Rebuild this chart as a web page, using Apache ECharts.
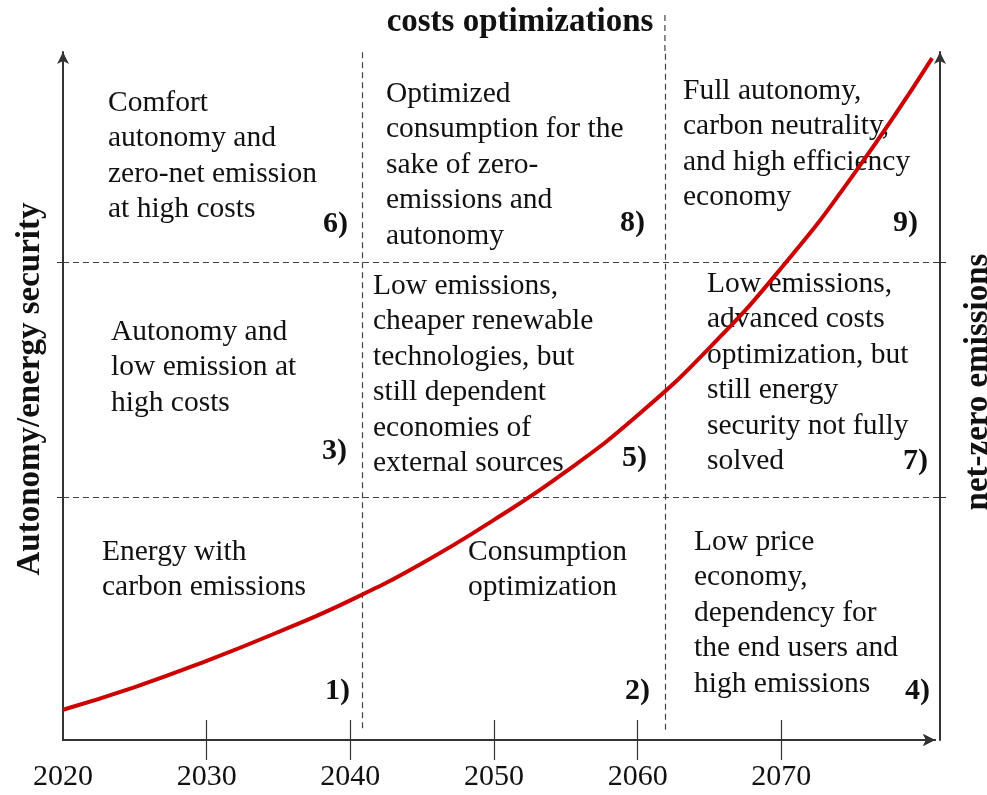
<!DOCTYPE html>
<html>
<head>
<meta charset="utf-8">
<title>costs optimizations</title>
<script src="https://cdn.jsdelivr.net/npm/echarts@6/dist/echarts.min.js"></script>
<style>
  html, body { margin: 0; padding: 0; background: #fff; }
  #chart { width: 987px; height: 795px; }
</style>
</head>
<body>
<div id="chart"></div>
<script>
// data (y is 0..100 of the vertical axis)
const years = [2020, 2025, 2030, 2035, 2040, 2045, 2050, 2055, 2060, 2065, 2070, 2075, 2080.5];
const curveValues = [4.4, 7.7, 11.5, 15.7, 20.3, 25.7, 32.0, 39.0, 47.2, 57.0, 68.6, 82.1, 99.1];
const tickYears = [2030, 2040, 2050, 2060, 2070];
const labelYears = [2020, 2030, 2040, 2050, 2060, 2070];
const dividerYears = [2040.8, 2061.9];
const dividerLevels = [35.3, 69.5];

const title = "costs optimizations";
const leftTitle = "Autonomy/energy security";
const rightTitle = "net-zero emissions";

const cellTexts = {
  q6: "Comfort\nautonomy and\nzero-net emission\nat high costs",
  q8: "Optimized\nconsumption for the\nsake of zero-\nemissions and\nautonomy",
  q9: "Full autonomy,\ncarbon neutrality,\nand high efficiency\neconomy",
  q3: "Autonomy and\nlow emission at\nhigh costs",
  q5: "Low emissions,\ncheaper renewable\ntechnologies, but\nstill dependent\neconomies of\nexternal sources",
  q7: "Low emissions,\nadvanced costs\noptimization, but\nstill energy\nsecurity not fully\nsolved",
  q1: "Energy with\ncarbon emissions",
  q2: "Consumption\noptimization",
  q4: "Low price\neconomy,\ndependency for\nthe end users and\nhigh emissions"
};
const cellNumbers = ["6)", "8)", "9)", "3)", "5)", "7)", "1)", "2)", "4)"];

const serif = "'Liberation Serif', 'DejaVu Serif', serif";
const axisColor = "#333";
const textColor = "#111";
const dashColor = "#444";
const xMin = 2020, xMax = 2080.7;

let chart = echarts.init(document.getElementById("chart"));

// text block helper
function block(text, x, y) {
  return {
    type: "text", x: x, y: y, silent: true,
    style: { text: text, fill: textColor, font: "29.5px " + serif, lineHeight: 35.5, align: "left", verticalAlign: "top" }
  };
}
function num(text, x, y) {
  return {
    type: "text", x: x, y: y, silent: true,
    style: { text: text, fill: textColor, font: "bold 30px " + serif, align: "right", verticalAlign: "middle" }
  };
}

let dividers = [];
// vertical dividers
dividers.push([{ coord: [dividerYears[0], 1.7] }, { coord: [dividerYears[0], 100] }]);
dividers.push([{ coord: [dividerYears[1], 1.5] }, { coord: [dividerYears[1], 100] }]);
// horizontal dividers
dividerLevels.forEach(function (v) {
  dividers.push([{ coord: [xMin, v] }, { coord: [xMax, v] }]);
});

let graphics = [
  { type: "text", x: 520, y: 22, silent: true,
    style: { text: title, fill: textColor, font: "bold 33px " + serif, align: "center", verticalAlign: "middle" } },
  { type: "text", x: 30, y: 389, rotation: Math.PI / 2, silent: true,
    style: { text: leftTitle, fill: textColor, font: "bold 33px " + serif, align: "center", verticalAlign: "middle" } },
  { type: "text", x: 978, y: 382, rotation: Math.PI / 2, silent: true,
    style: { text: rightTitle, fill: textColor, font: "bold 33px " + serif, align: "center", verticalAlign: "middle" } },

  block(cellTexts.q6, 108, 85),
  block(cellTexts.q8, 386, 76),
  block(cellTexts.q9, 683, 73),
  block(cellTexts.q3, 111, 314),
  block(cellTexts.q5, 373, 268),
  block(cellTexts.q7, 707, 266),
  block(cellTexts.q1, 102, 534),
  block(cellTexts.q2, 468, 534),
  block(cellTexts.q4, 694, 524),

  num(cellNumbers[0], 348, 224),
  num(cellNumbers[1], 645, 223),
  num(cellNumbers[2], 918, 223),
  num(cellNumbers[3], 347, 451),
  num(cellNumbers[4], 647, 458),
  num(cellNumbers[5], 928, 461),
  num(cellNumbers[6], 350, 691),
  num(cellNumbers[7], 650, 691),
  num(cellNumbers[8], 930, 691)
];

function yearLabel(v) { return String(v); }

chart.setOption({
  animation: false,
  grid: { left: 63, right: 52, top: 52, bottom: 55 },
  xAxis: [
    {
      type: "value", position: "bottom", min: xMin, max: xMax,
      axisLine: { show: true, symbol: ["none", "arrow"], symbolSize: [9, 12], lineStyle: { color: axisColor, width: 2 } },
      axisTick: { show: true, customValues: tickYears, length: 20, lineStyle: { color: axisColor, width: 1.2 } },
      axisLabel: { customValues: labelYears, formatter: yearLabel, margin: 22, color: textColor, fontSize: 30, fontFamily: serif },
      splitLine: { show: false }
    },
    {
      // inner half of the ticks
      type: "value", position: "bottom", min: xMin, max: xMax,
      axisLine: { show: false },
      axisTick: { show: true, inside: true, customValues: tickYears, length: 20, lineStyle: { color: axisColor, width: 1.2 } },
      axisLabel: { show: false },
      splitLine: { show: false }
    },
    {
      type: "value", position: "top", min: xMin, max: xMax,
      axisLine: { show: true, symbol: ["none", "arrow"], symbolSize: [9, 12], lineStyle: { color: axisColor, width: 2 } },
      axisTick: { show: false },
      axisLabel: { show: false },
      splitLine: { show: false }
    }
  ],
  yAxis: [
    {
      type: "value", position: "left", min: 0, max: 100,
      axisLine: { show: true, symbol: ["none", "arrow"], symbolSize: [9, 12], lineStyle: { color: axisColor, width: 2 } },
      axisTick: { show: true, customValues: dividerLevels, length: 6, lineStyle: { color: axisColor } },
      axisLabel: { show: false },
      splitLine: { show: false }
    },
    {
      type: "value", position: "left", min: 0, max: 100,
      axisLine: { show: false },
      axisTick: { show: true, inside: true, customValues: dividerLevels, length: 6, lineStyle: { color: axisColor } },
      axisLabel: { show: false },
      splitLine: { show: false }
    },
    {
      type: "value", position: "right", offset: 5, min: 0, max: 100,
      axisLine: { show: true, symbol: ["none", "arrow"], symbolSize: [9, 12], lineStyle: { color: axisColor, width: 2 } },
      axisTick: { show: true, customValues: dividerLevels, length: 6, lineStyle: { color: axisColor } },
      axisLabel: { show: false },
      splitLine: { show: false }
    },
    {
      type: "value", position: "right", offset: 5, min: 0, max: 100,
      axisLine: { show: false },
      axisTick: { show: true, inside: true, customValues: dividerLevels, length: 6, lineStyle: { color: axisColor } },
      axisLabel: { show: false },
      splitLine: { show: false }
    }
  ],
  series: [
    {
      type: "line",
      data: years.map(function (y, i) { return [y, curveValues[i]]; }),
      smooth: true,
      symbol: "none",
      clip: false,
      lineStyle: { color: "#cc0000", width: 4 },
      z: 5
    },
    {
      // dashed grid of the nine cells
      type: "line",
      data: [],
      clip: false,
      markLine: {
        silent: true,
        symbol: "none",
        label: { show: false },
        lineStyle: { color: dashColor, width: 1.2, type: [6, 4] },
        data: dividers
      },
      z: 1
    }
  ],
  graphic: graphics
});

// the second divider runs on above the top axis, up beside the title
let topPx = chart.convertToPixel({ yAxisIndex: 0 }, 100);
let divX = chart.convertToPixel({ xAxisIndex: 0 }, dividerYears[1]);
graphics.push({
  type: "line", silent: true,
  shape: { x1: divX, y1: 15, x2: divX, y2: topPx },
  style: { stroke: dashColor, lineWidth: 1.2, lineDash: [6, 4] }
});
chart.setOption({ graphic: graphics }, { replaceMerge: ["graphic"] });
</script>
</body>
</html>
